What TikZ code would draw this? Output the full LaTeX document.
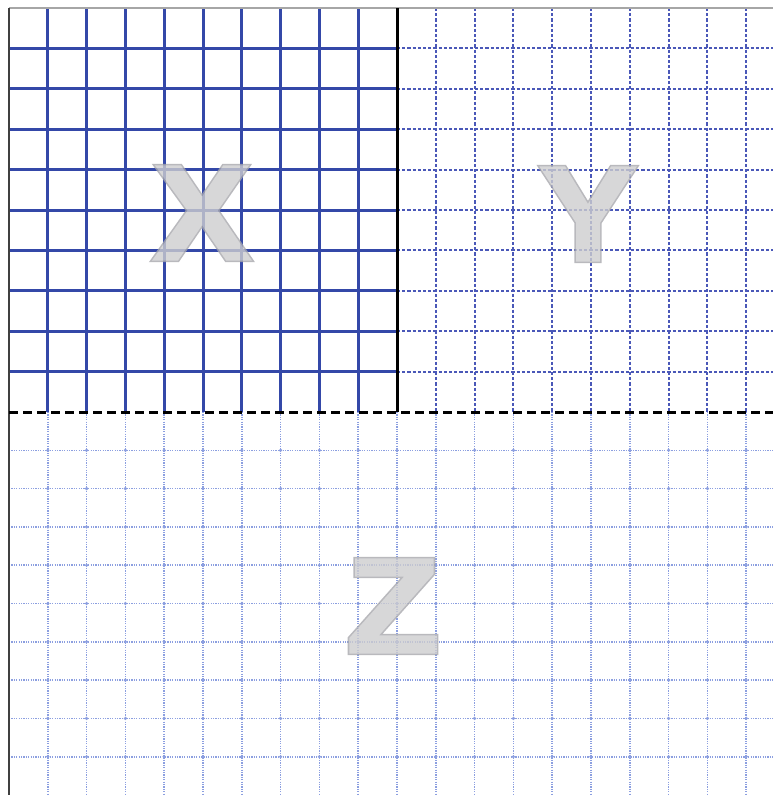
\documentclass[tikz,border=0pt]{standalone}
\usepackage{fontspec}
\setmainfont{Liberation Sans}
\definecolor{gx}{HTML}{3448A8}
\definecolor{gy}{HTML}{4A58B8}
\definecolor{gz}{HTML}{8C9FE0}
\definecolor{lettr}{HTML}{CDCDCF}
\newcommand{\outerglyph}[1]{\special{pdf:literal 6 w 0 j 4 M 0.66 0.66 0.68 RG 2 Tr}#1\special{pdf:literal 0 Tr}}
\newcommand{\innerglyph}[1]{\special{pdf:literal 3 w 0 j 4 M 0.804 0.804 0.812 RG 2 Tr}#1\special{pdf:literal 0 Tr}}
\tikzset{
  xline/.style={gx, line width=3pt},
  yline/.style={gy, line width=2pt, dash pattern=on 3.2pt off 2pt},
  zline/.style={gz, line width=1.6pt, dash pattern=on 1.2pt off 1.2pt},
  letter/.style={text=lettr, xscale=1.08, font=\fontsize{134}{134}\selectfont\bfseries, inner sep=0pt, anchor=center}
}
\begin{document}
\begin{tikzpicture}[x=1pt,y=-1pt]
\useasboundingbox (0,0) rectangle (773,795);
\fill[white] (0,0) rectangle (773,795);
% Z region grid
\foreach \k in {1,...,19} { \draw[zline] ({9+38.8*\k},412) -- ({9+38.8*\k},795); }
\foreach \k in {1,...,9} { \draw[zline] (9,{412+38.3*\k}) -- (773,{412+38.3*\k}); }
\foreach \i in {1,...,19} { \foreach \j in {1,...,9} {
  \fill[gz] ({9+38.8*\i},{412+38.3*\j}) circle (1.8pt);
}}
% Y region grid
\foreach \k in {1,...,9} { \draw[yline] ({397+38.8*\k},8) -- ({397+38.8*\k},412); }
\foreach \k in {1,...,9} { \draw[yline] (397,{8+40.4*\k}) -- (773,{8+40.4*\k}); }
% X region grid
\foreach \k in {1,...,9} { \draw[xline] ({9+38.8*\k},8) -- ({9+38.8*\k},412); }
\foreach \k in {1,...,9} { \draw[xline] (9,{8+40.4*\k}) -- (397,{8+40.4*\k}); }
% borders
\draw[gray!70, line width=1.2pt] (9,8) -- (773,8);
\draw[black!75, line width=2pt] (9,8) -- (9,795);
\draw[black, line width=3pt] (397,8) -- (397,412);
\draw[black, line width=3pt, dash pattern=on 9pt off 5pt] (9,412) -- (773,412);
% letters
\begin{scope}[transparency group, opacity=0.8]
\node[letter] (Xo) at (202,213) {\outerglyph{X}};
\node[letter] (X) at (202,213) {\innerglyph{X}};
\node[letter] (Yo) at (588,214) {\outerglyph{Y}};
\node[letter] (Y) at (588,214) {\innerglyph{Y}};
\node[letter, xscale=1.05] (Zo) at (393,606) {\outerglyph{Z}};
\node[letter, xscale=1.05] (Z) at (393,606) {\innerglyph{Z}};
\end{scope}
\end{tikzpicture}
\end{document}
